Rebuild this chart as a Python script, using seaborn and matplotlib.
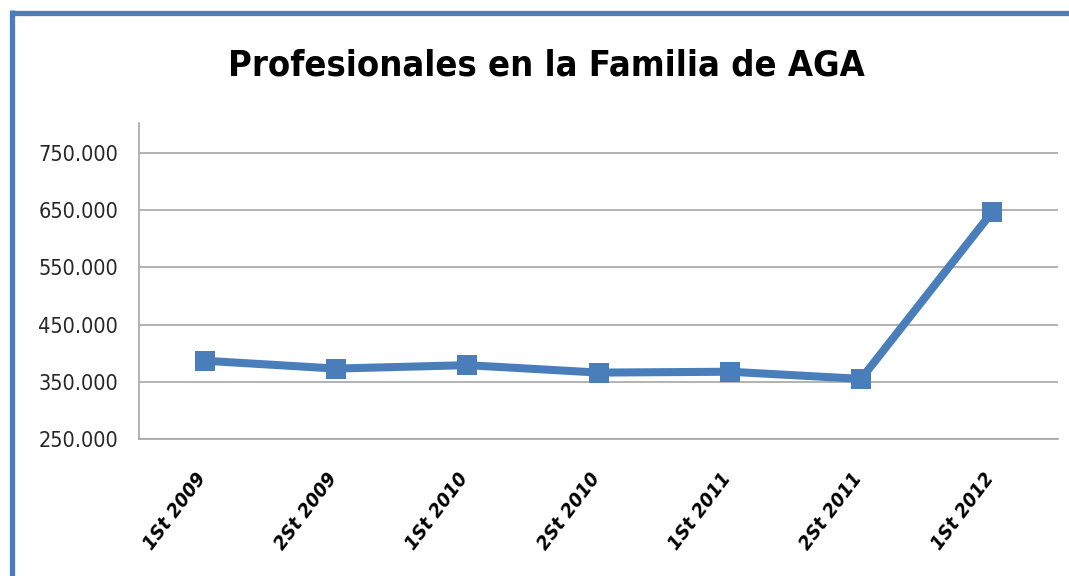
import matplotlib
matplotlib.use("Agg")
import matplotlib.pyplot as plt
import matplotlib.ticker as mticker
import matplotlib.transforms as mtransforms
from matplotlib.lines import Line2D
import pandas as pd
import seaborn as sns

# data
periods = ["1St 2009", "2St 2009", "1St 2010", "2St 2010", "1St 2011", "2St 2011", "1St 2012"]
profesionales = [386700, 373000, 379000, 366000, 367500, 355000, 647000]
y_ticks = [250000, 350000, 450000, 550000, 650000, 750000]

df = pd.DataFrame({"periodo": periods, "profesionales": profesionales})

sns.set_theme(style="white")
plt.rcParams["font.family"] = ["DejaVu Sans"]
plt.rcParams["font.stretch"] = "condensed"

blue = "#4A7EBB"
grid_grey = "#A6A6A6"

fig = plt.figure(figsize=(10.69, 5.76), dpi=100)
ax = fig.add_axes([139 / 1069, 1 - 439 / 576, (1058 - 139) / 1069, (439 - 123) / 576])

sns.lineplot(data=df, x="periodo", y="profesionales", ax=ax, color=blue,
             linewidth=5.8, marker="s", markersize=14.5, markeredgewidth=0,
             sort=False)

ax.set_xlim(-0.5, len(periods) - 0.5)
ax.set_ylim(250000, 802000)
ax.set_yticks(y_ticks)
ax.yaxis.set_major_formatter(mticker.FuncFormatter(lambda v, p: f"{v:,.0f}".replace(",", ".")))
ax.yaxis.grid(True, color=grid_grey, linewidth=1.2)
ax.set_axisbelow(True)
ax.set_xlabel("")
ax.set_ylabel("")

# category ticks between groups, labels at centers
ax.set_xticks(range(len(periods)))
ax.set_xticklabels(periods, rotation=53, ha="right", va="top", rotation_mode="anchor",
                   fontsize=14.5, fontweight="bold", style="italic", color="black")
ax.set_xticks([i - 0.5 for i in range(len(periods) + 1)], minor=True)
ax.tick_params(axis="x", which="major", length=0, pad=22)
ax.tick_params(axis="x", which="minor", length=6, color=grid_grey, width=1)
ax.tick_params(axis="y", length=5, color=grid_grey, width=1, pad=10, labelsize=15.5,
               labelcolor="#262626")

# nudge rotated labels so their upper end sits at the category centre
shift = mtransforms.ScaledTranslation(-10 / 100, 0, fig.dpi_scale_trans)
for lbl in ax.get_xticklabels():
    lbl.set_transform(lbl.get_transform() + shift)

for side in ["top", "right"]:
    ax.spines[side].set_visible(False)
for side in ["left", "bottom"]:
    ax.spines[side].set_color(grid_grey)
    ax.spines[side].set_linewidth(1.2)

fig.text(546 / 1069, 1 - 65 / 576, "Profesionales en la Familia de AGA",
         ha="center", va="center", fontsize=26, fontweight="bold", color="black")

# blue chart frame
fig.add_artist(Line2D([11.5 / 1069, 1.0], [1 - 12.5 / 576, 1 - 12.5 / 576],
                      transform=fig.transFigure, color=blue, linewidth=3.8,
                      solid_capstyle="butt"))
fig.add_artist(Line2D([11.5 / 1069, 11.5 / 1069], [0.0, 1 - 10 / 576],
                      transform=fig.transFigure, color=blue, linewidth=3.8,
                      solid_capstyle="butt"))

fig.savefig("out.png", dpi=100)
